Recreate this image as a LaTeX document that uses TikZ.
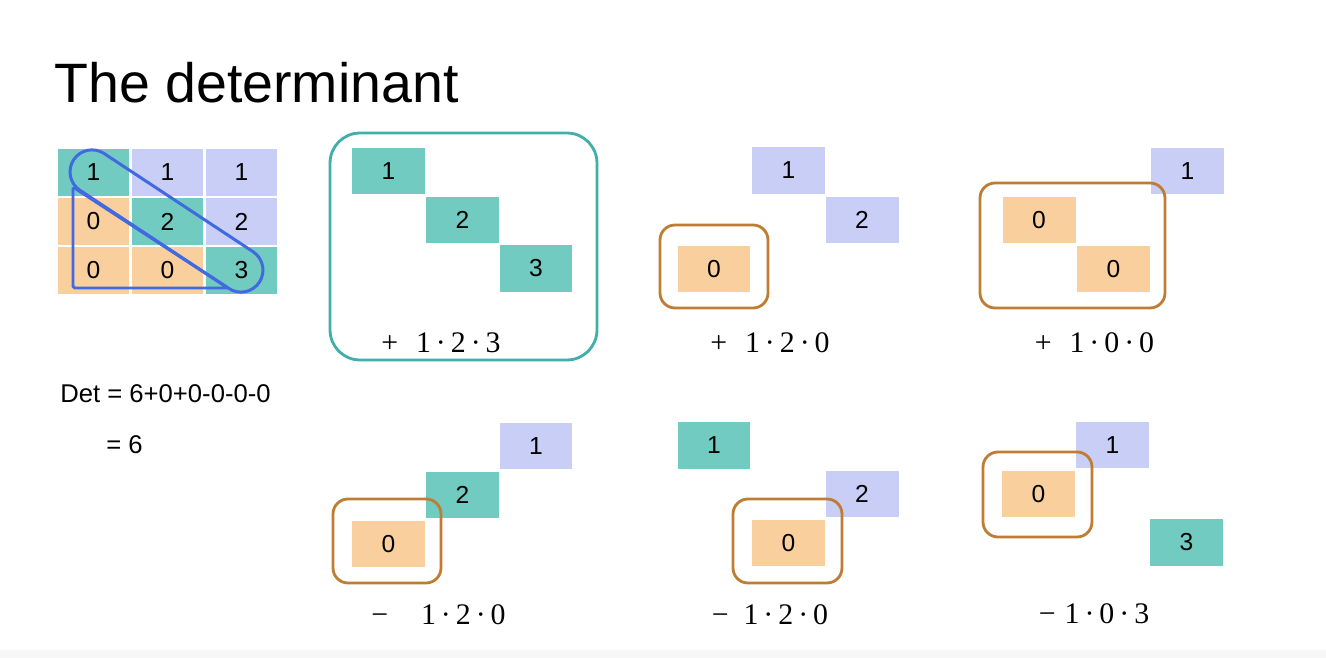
\documentclass[tikz,border=0pt]{standalone}
\usepackage{fontspec}
\setmainfont{Liberation Sans}
\newfontfamily\termfont{Liberation Serif}
\definecolor{tealc}{HTML}{72CBC0}
\definecolor{lavc}{HTML}{C8CEF5}
\definecolor{orgc}{HTML}{FACF9E}
\definecolor{tealline}{HTML}{40AFAA}
\definecolor{brownline}{HTML}{BE7D32}
\definecolor{blueline}{HTML}{4169E1}
\tikzset{
  cell/.style={minimum width=1.46cm, minimum height=0.94cm, inner sep=0pt, font=\fontsize{14}{16}\selectfont},
  mcell/.style={cell, minimum width=1.48cm, minimum height=0.98cm, draw=white, line width=1.2pt},
  pick/.style={draw=brownline, line width=1.6pt, rounded corners=0.3cm, inner sep=0pt},
  term/.style={font=\termfont\fontsize{17}{20}\selectfont, inner sep=0pt},
}
\begin{document}
\begin{tikzpicture}[x=0.02cm, y=-0.02cm]
  \useasboundingbox (0,0) rectangle (1326,658);
  \fill[black!3] (0,650) rectangle (1326,658);

  % Title
  \node[anchor=base west, inner sep=0pt, font=\fontsize{31.6}{36}\selectfont] (title) at (54,103) {The determinant};

  % Matrix
  \foreach \r/\va/\vb/\vc/\fa/\fb/\fc in {1/1/1/1/tealc/lavc/lavc, 2/0/2/2/orgc/tealc/lavc, 3/0/0/3/orgc/orgc/tealc} {
    \node[mcell, fill=\fa] (m\r1) at (93.5,{123.5+49*\r}) {\va};
    \node[mcell, fill=\fb] (m\r2) at (167.5,{123.5+49*\r}) {\vb};
    \node[mcell, fill=\fc] (m\r3) at (241.5,{123.5+49*\r}) {\vc};
  }
  \node[draw=blueline, line width=1.7pt, rotate=-33.4, minimum width=4.45cm, minimum height=0.88cm, rounded corners=0.44cm] (diag) at (166.5,221) {};
  \draw[blueline, line width=1.7pt, rounded corners=1pt] (73,187) -- (73,288) -- (228,288) -- cycle;

  % Result
  \node[anchor=west, inner sep=0pt, font=\fontsize{14.6}{17}\selectfont] (det) at (60,394) {Det = 6+0+0-0-0-0};
  \node[anchor=west, inner sep=0pt, font=\fontsize{14.6}{17}\selectfont] (res) at (106,445) {= 6};

  % Top row
  \node[cell, fill=tealc] (a1) at (388.5,171) {1};
  \node[cell, fill=tealc] (a2) at (462.5,220) {2};
  \node[cell, fill=tealc] (a3) at (536,268.5) {3};
  \node[draw=tealline, line width=1.6pt, rounded corners=0.6cm, minimum width=5.34cm, minimum height=4.54cm] (boxa) at (463.5,246.5) {};
  \node[term] (terma) at (441,343) {+\hspace{0.6em}1\,·\,2\,·\,3};

  \node[cell, fill=lavc] (b1) at (788.5,170.5) {1};
  \node[cell, fill=lavc] (b2) at (862,220) {2};
  \node[cell, fill=orgc] (b3) at (714,269) {0};
  \node[pick, minimum width=2.16cm, minimum height=1.66cm] (boxb) at (714,266.5) {};
  \node[term] (termb) at (770,343) {+\hspace{0.6em}1\,·\,2\,·\,0};

  \node[cell, fill=lavc] (c1) at (1187.5,171) {1};
  \node[cell, fill=orgc] (c2) at (1039,220) {0};
  \node[cell, fill=orgc] (c3) at (1113.5,269) {0};
  \node[pick, minimum width=3.7cm, minimum height=2.5cm] (boxc) at (1072.5,245.5) {};
  \node[term] (termc) at (1094.5,343) {+\hspace{0.6em}1\,·\,0\,·\,0};

  % Bottom row
  \node[cell, fill=lavc] (d1) at (536,446) {1};
  \node[cell, fill=tealc] (d2) at (462.5,495) {2};
  \node[cell, fill=orgc] (d3) at (388.5,544) {0};
  \node[pick, minimum width=2.16cm, minimum height=1.68cm] (boxd) at (387,541) {};
  \node[term] (termd) at (438.5,615) {−\hspace{1.1em}1\,·\,2\,·\,0};

  \node[cell, fill=tealc] (e1) at (714,445.5) {1};
  \node[cell, fill=lavc] (e2) at (862,494) {2};
  \node[cell, fill=orgc] (e3) at (788.5,543) {0};
  \node[pick, minimum width=2.18cm, minimum height=1.68cm] (boxe) at (787.5,541) {};
  \node[term] (terme) at (770,615) {−\hspace{0.5em}1\,·\,2\,·\,0};

  \node[cell, fill=lavc] (f1) at (1112.5,445) {1};
  \node[cell, fill=orgc] (f2) at (1038.5,494) {0};
  \node[cell, fill=tealc] (f3) at (1186.5,542.5) {3};
  \node[pick, minimum width=2.18cm, minimum height=1.7cm] (boxf) at (1037.5,494.5) {};
  \node[term] (termf) at (1094,614) {−\hspace{0.3em}1\,·\,0\,·\,3};
\end{tikzpicture}
\end{document}
